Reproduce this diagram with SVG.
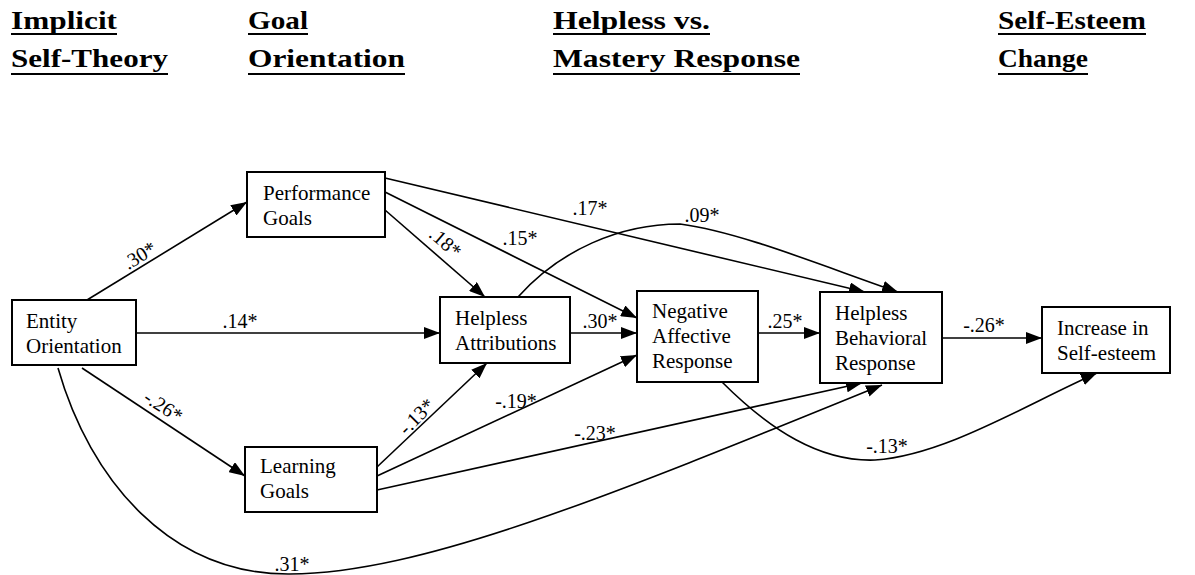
<svg xmlns="http://www.w3.org/2000/svg" width="1195" height="575" viewBox="0 0 1195 575">
<style>
.hd{font-family:"Liberation Serif","Times New Roman",serif;font-weight:bold;font-size:25px;fill:#000}
.ul{stroke:#000;stroke-width:2.2}
.box{fill:#fff;stroke:#000;stroke-width:2}
.nt{font-family:"Liberation Serif","Times New Roman",serif;font-size:21px;fill:#000}
.lb{font-family:"Liberation Serif","Times New Roman",serif;font-size:20px;fill:#000}
.ed{fill:none;stroke:#000;stroke-width:1.6;marker-end:url(#ah)}
</style>
<defs>
<marker id="ah" viewBox="0 0 16 12" refX="16" refY="6" markerWidth="16" markerHeight="12" markerUnits="userSpaceOnUse" orient="auto">
<path d="M0,0 L16,6 L0,12 z" fill="#000"/>
</marker>
</defs>
<rect width="1195" height="575" fill="#fff"/>
<g id="headers">
<text class="hd" x="11" y="29" textLength="106" lengthAdjust="spacingAndGlyphs">Implicit</text>
<line class="ul" x1="11" y1="34" x2="117" y2="34"/>
<text class="hd" x="11" y="67" textLength="157" lengthAdjust="spacingAndGlyphs">Self-Theory</text>
<line class="ul" x1="11" y1="74" x2="168" y2="74"/>
<text class="hd" x="248" y="29" textLength="60" lengthAdjust="spacingAndGlyphs">Goal</text>
<line class="ul" x1="248" y1="34" x2="308" y2="34"/>
<text class="hd" x="248" y="67" textLength="157" lengthAdjust="spacingAndGlyphs">Orientation</text>
<line class="ul" x1="248" y1="74" x2="405" y2="74"/>
<text class="hd" x="553" y="29" textLength="157" lengthAdjust="spacingAndGlyphs">Helpless vs.</text>
<line class="ul" x1="553" y1="34" x2="710" y2="34"/>
<text class="hd" x="553" y="67" textLength="247" lengthAdjust="spacingAndGlyphs">Mastery Response</text>
<line class="ul" x1="553" y1="74" x2="800" y2="74"/>
<text class="hd" x="998" y="29" textLength="148" lengthAdjust="spacingAndGlyphs">Self-Esteem</text>
<line class="ul" x1="998" y1="34" x2="1146" y2="34"/>
<text class="hd" x="998" y="67" textLength="90" lengthAdjust="spacingAndGlyphs">Change</text>
<line class="ul" x1="998" y1="74" x2="1088" y2="74"/>
</g>
<g id="connectors">
<path class="ed" d="M87,300 L247,202"/>
<path class="ed" d="M136,333 L440,333"/>
<path class="ed" d="M82,368 L245,476"/>
<path class="ed" d="M58,368 C90,480 170,575 290,574 C420,573 600,500 882,385"/>
<path class="ed" d="M385,210 L485,297"/>
<path class="ed" d="M385,192 L637,318"/>
<path class="ed" d="M385,178 L865,292"/>
<path class="ed" d="M518,297 C560,250 620,224 680,224 C740,232 820,265 898,292"/>
<path class="ed" d="M570,333 L637,333"/>
<path class="ed" d="M377,467 L487,363"/>
<path class="ed" d="M377,476 L637,355"/>
<path class="ed" d="M377,490 L862,383"/>
<path class="ed" d="M758,333 L820,333"/>
<path class="ed" d="M722,382 C770,430 820,462 875,460 C945,455 1025,405 1097,373"/>
<path class="ed" d="M942,338 L1042,338"/>
<text class="lb" transform="translate(140,256) rotate(-31.5)" y="6" text-anchor="middle">.30*</text>
<text class="lb" x="240" y="328" text-anchor="middle">.14*</text>
<text class="lb" transform="translate(163,407) rotate(33)" y="6" text-anchor="middle">-.26*</text>
<text class="lb" transform="translate(445,243) rotate(41)" y="6" text-anchor="middle">.18*</text>
<text class="lb" x="520" y="245" text-anchor="middle">.15*</text>
<text class="lb" x="590" y="215" text-anchor="middle">.17*</text>
<text class="lb" x="702" y="222" text-anchor="middle">.09*</text>
<text class="lb" x="600" y="328" text-anchor="middle">.30*</text>
<text class="lb" x="785" y="328" text-anchor="middle">.25*</text>
<text class="lb" x="984" y="332" text-anchor="middle">-.26*</text>
<text class="lb" transform="translate(417,417) rotate(-45)" y="6" text-anchor="middle">-.13*</text>
<text class="lb" x="516" y="408" text-anchor="middle">-.19*</text>
<text class="lb" x="595" y="440" text-anchor="middle">-.23*</text>
<text class="lb" x="887" y="453" text-anchor="middle">-.13*</text>
<text class="lb" x="292" y="571" text-anchor="middle">.31*</text>
</g>
<g id="entity">
<rect class="box" x="12" y="300" width="124" height="65"/>
<text class="nt" x="26" y="328">Entity</text>
<text class="nt" x="26" y="353">Orientation</text>
</g>
<g id="performance">
<rect class="box" x="247" y="172" width="138" height="65"/>
<text class="nt" x="263" y="200">Performance</text>
<text class="nt" x="263" y="225">Goals</text>
</g>
<g id="learning">
<rect class="box" x="245" y="447" width="132" height="65"/>
<text class="nt" x="260" y="473">Learning</text>
<text class="nt" x="260" y="498">Goals</text>
</g>
<g id="attributions">
<rect class="box" x="440" y="297" width="130" height="66"/>
<text class="nt" x="455" y="325">Helpless</text>
<text class="nt" x="455" y="350">Attributions</text>
</g>
<g id="affective">
<rect class="box" x="637" y="291" width="121" height="91"/>
<text class="nt" x="652" y="318">Negative</text>
<text class="nt" x="652" y="343">Affective</text>
<text class="nt" x="652" y="368">Response</text>
</g>
<g id="behavioral">
<rect class="box" x="820" y="292" width="122" height="91"/>
<text class="nt" x="835" y="320">Helpless</text>
<text class="nt" x="835" y="345">Behavioral</text>
<text class="nt" x="835" y="370">Response</text>
</g>
<g id="selfesteem">
<rect class="box" x="1042" y="307" width="128" height="66"/>
<text class="nt" x="1057" y="335">Increase in</text>
<text class="nt" x="1057" y="360">Self-esteem</text>
</g>
</svg>
